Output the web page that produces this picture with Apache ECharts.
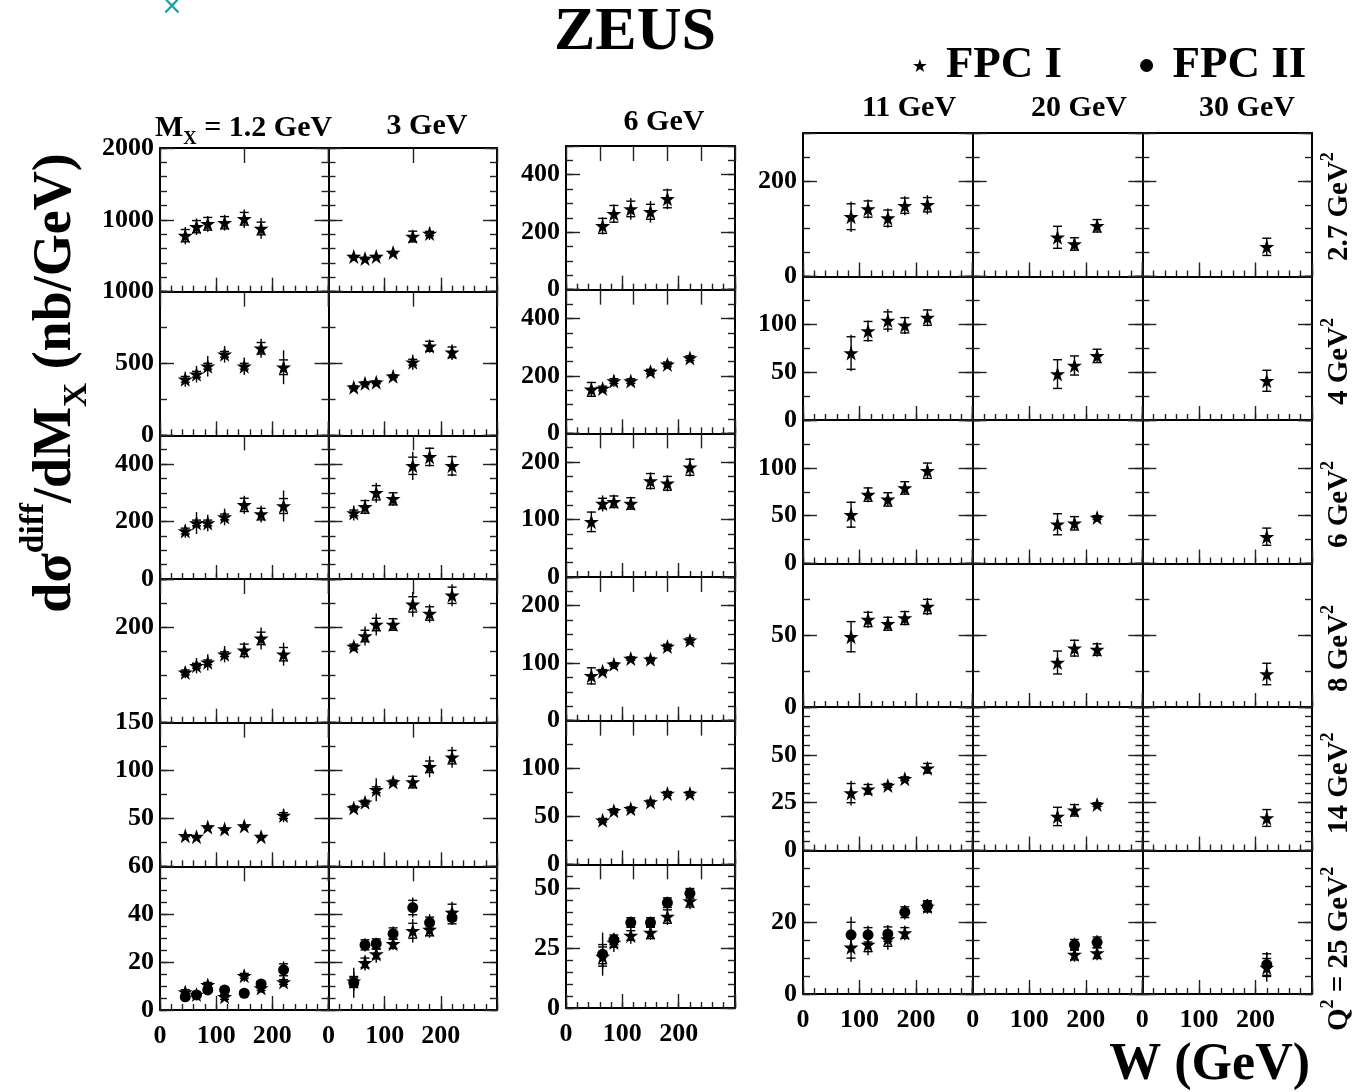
<!DOCTYPE html>
<html>
<head>
<meta charset="utf-8">
<script src="https://cdn.jsdelivr.net/npm/echarts@6/dist/echarts.min.js"></script>
<style>
  html, body { margin: 0; padding: 0; background: #fff; }
  #chart { width: 1363px; height: 1092px; }
</style>
</head>
<body>
<div id="chart"></div>
<script>
// Columns: diffractive mass M_X; rows: photon virtuality Q^2
const massLabels = ['1.2', '3', '6', '11', '20', '30'];
const q2Labels = ['2.7', '4', '6', '8', '14', '25'];
const wTickLabels = [0, 100, 200];

// Each point: [W (GeV), dσ/dM_X (nb/GeV), stat. error, total error]; one inner list per Q^2 row
const fpcI_M1p2 = [
  [[45, 780, 85, 120], [65, 905, 85, 115], [85, 945, 88, 110], [115, 960, 85, 110], [150, 1015, 88, 130], [180, 880, 88, 145]],
  [[45, 390, 20, 52], [65, 425, 20, 58], [85, 481, 20, 72], [115, 564, 20, 58], [150, 481, 20, 61], [180, 606, 40, 66], [220, 474, 51, 118]],
  [[45, 167, 10, 23], [65, 195, 10, 38], [85, 195, 10, 29], [115, 216, 10, 29], [150, 258, 23, 32], [180, 226, 20, 29], [220, 254, 26, 54]],
  [[45, 105, 5, 12], [65, 119, 5, 16], [85, 126, 5, 17], [115, 143, 5, 17], [150, 151, 13, 17], [180, 176, 13, 23], [220, 143, 14, 24]],
  [[45, 32, 1, 2], [65, 31, 1, 2], [85, 41, 1, 3], [115, 39, 1, 2], [150, 42, 1, 3], [180, 31, 1, 2], [220, 53, 3, 7]],
  [[45, 7.5, 1, 2], [65, 6.5, 1, 1.5], [85, 10.5, 1, 2], [115, 5.5, 1, 1.5], [150, 14.3, 1, 2.5], [180, 9.2, 1, 2], [220, 11.7, 1, 2]]
];
const fpcI_M3 = [
  [[45, 488, 15, 20], [65, 462, 15, 20], [85, 488, 15, 20], [115, 545, 15, 25], [150, 767, 75, 80], [180, 810, 30, 90]],
  [[45, 334, 10, 15], [65, 362, 10, 20], [85, 369, 10, 20], [115, 411, 10, 15], [150, 509, 20, 52], [180, 620, 35, 45], [220, 578, 37, 54]],
  [[45, 230, 10, 26], [65, 251, 22, 26], [85, 300, 25, 35], [115, 279, 21, 24], [150, 394, 30, 49], [180, 425, 30, 33], [220, 394, 32, 36]],
  [[45, 159, 5, 10], [65, 181, 12, 20], [85, 205, 13, 23], [115, 205, 12, 13], [150, 247, 16, 26], [180, 228, 14, 19], [220, 266, 17, 23]],
  [[45, 61, 2, 3], [65, 67, 2, 5], [85, 80, 3, 12], [115, 88, 2, 4], [150, 88, 6, 7], [180, 104, 6, 11], [220, 114, 7, 11]],
  [[45, 12, 2, 4], [65, 19.7, 2, 3.2], [85, 23.4, 2, 3.7], [115, 27.7, 2, 2.5], [150, 33.1, 3.1, 4.9], [180, 33.6, 2.6, 3.4], [220, 40.7, 3.5, 4.5]]
];
const fpcI_M6 = [
  [[65, 222, 26, 30], [85, 264, 29, 32], [115, 281, 27, 38], [150, 271, 26, 38], [180, 316, 31, 36]],
  [[45, 153, 24, 26], [65, 156, 8, 12], [85, 182, 8, 20], [115, 182, 8, 12], [150, 215, 8, 15], [180, 240, 8, 15], [220, 262, 8, 15]],
  [[45, 96, 17, 18], [65, 128, 9, 14], [85, 131, 10, 12], [115, 128, 10, 11], [150, 167, 13, 15], [180, 163, 12, 14], [220, 191, 14, 16]],
  [[45, 78, 14, 15], [65, 86, 3, 5], [85, 98, 3, 8], [115, 108, 3, 6], [150, 107, 3, 5], [180, 129, 4, 8], [220, 140, 4, 7]],
  [[65, 46, 2, 3], [85, 56, 2, 4], [115, 58, 2, 3], [150, 65, 2, 3], [180, 74, 2, 3], [220, 74, 2, 3]],
  [[65, 21.5, 4, 5], [85, 27.4, 2, 4], [115, 30.3, 2, 3.5], [150, 31.5, 2.5, 3], [180, 38.2, 2.8, 3.5], [220, 44.7, 2.5, 3.5]]
];
const fpcI_M11 = [
  [[85, 125, 27, 32], [115, 141, 17, 20], [150, 122, 17, 20], [180, 148, 16, 20], [220, 150, 15, 20]],
  [[85, 70, 17, 19], [115, 93, 10, 11], [150, 104, 9, 12], [180, 99, 8, 9], [220, 107, 8, 9]],
  [[85, 51, 13, 14], [115, 72, 7, 8], [150, 67, 7, 7], [180, 79, 6.5, 7], [220, 97, 8, 8]],
  [[85, 49, 10.5, 11], [115, 61, 5, 6], [150, 58, 4.5, 5], [180, 62, 4.5, 5], [220, 70, 5, 6]],
  [[85, 30, 5, 6.5], [115, 32, 2.5, 3], [150, 34, 1, 1.5], [180, 37.5, 1, 1.5], [220, 43, 2.5, 3]],
  [[85, 13.0, 3, 4], [115, 13.8, 2, 3], [150, 15.3, 2, 3], [180, 17, 1.5, 2], [220, 24.4, 1.5, 2]]
];
const fpcI_M20 = [
  [[150, 82, 23, 23], [180, 68, 13, 14], [220, 106, 13, 14]],
  [[150, 48, 15, 15], [180, 57, 10, 10], [220, 67, 7, 7]],
  [[150, 41, 11, 11], [180, 42, 7, 7], [220, 48, 2, 3]],
  [[150, 31, 8, 8], [180, 41, 5.5, 6], [220, 40, 4, 5]],
  [[150, 17.8, 4.8, 4.8], [180, 21, 3, 3], [220, 24, 1, 1.5]],
  [[180, 11, 1.5, 2], [220, 11.4, 1.5, 2]]
];
const fpcI_M30 = [
  [[220, 62, 18, 19]],
  [[220, 41, 11, 11]],
  [[220, 28, 9, 9]],
  [[220, 23, 7.5, 7.5]],
  [[220, 17, 4.4, 4.4]],
  [[220, 7.4, 2.5, 4]]
];

// FPC II exists only for the Q^2 = 25 GeV^2 row
const fpcII_M1p2 = [[45, 5.5, 1, 1.5], [65, 6.3, 1, 1], [85, 8.4, 1, 1.5], [115, 8.4, 1, 1.5], [150, 7.0, 1, 1], [180, 10.9, 1, 1.5], [220, 16.8, 2.5, 3.5]];
const fpcII_M3 = [[45, 11.4, 2, 6.3], [65, 27.2, 2.1, 2.8], [85, 27.7, 2, 2.5], [115, 31.9, 2.4, 3], [150, 42.8, 3, 4.2], [180, 36.5, 2.3, 3.5], [220, 38.6, 2.6, 3]];
const fpcII_M6 = [[65, 22.5, 4, 9], [85, 28.5, 2, 2.5], [115, 35.7, 2, 2.5], [150, 35.7, 2, 2.5], [180, 44, 2, 2.5], [220, 47.9, 2, 2.5]];
const fpcII_M11 = [[85, 16.5, 3.5, 5], [115, 16.5, 2, 2.5], [150, 16.7, 2, 2.5], [180, 22.8, 1.5, 2], [220, 24.5, 1.5, 2]];
const fpcII_M20 = [[180, 13.7, 1.5, 2], [220, 14.4, 1.5, 2]];
const fpcII_M30 = [[220, 8.2, 3, 3.5]];

// y-axis ranges and tick labels for each block of columns (one entry per Q^2 row)
const yMaxA = [2000, 1000, 500, 300, 150, 60];
const yMajorA = [1000, 500, 200, 200, 50, 20];
const yMinorA = [200, 250, 50, 50, 25, 5];
const yLabelsA = [[2000, 1000], [1000, 500, 0], [400, 200, 0], [200], [150, 100, 50], [60, 40, 20, 0]];

const yMaxB = [500, 500, 250, 250, 150, 60];
const yMajorB = [200, 200, 100, 100, 50, 25];
const yMinorB = [50, 50, 25, 25, 25, 5];
const yLabelsB = [[400, 200, 0], [400, 200, 0], [200, 100, 0], [200, 100, 0], [100, 50, 0], [50, 25, 0]];

const yMaxC = [300, 150, 150, 100, 75, 40];
const yMajorC = [200, 50, 50, 50, 25, 20];
const yMinorC = [50, 25, 25, 25, 5, 5];
const yLabelsC = [[200, 0], [100, 50, 0], [100, 50, 0], [50, 0], [50, 25, 0], [20, 0]];

const fpcIByCol = [fpcI_M1p2, fpcI_M3, fpcI_M6, fpcI_M11, fpcI_M20, fpcI_M30];
const fpcIIByCol = [fpcII_M1p2, fpcII_M3, fpcII_M6, fpcII_M11, fpcII_M20, fpcII_M30];

const FONT = 'Liberation Serif';
const STAR = 'path://M50,2 L61.8,36.3 L97.6,36.3 L68.6,57.6 L79.4,92 L50,70.8 L20.6,92 L31.4,57.6 L2.4,36.3 L38.2,36.3 Z';

const blocks = [
  { cols: [0, 1], left: 160, colW: 168.5, top: 148, rowH: 143.67, yMax: yMaxA, yMajor: yMajorA, yMinor: yMinorA, yLabels: yLabelsA, topTick: 150, xLabelGap: 13 },
  { cols: [2], left: 566, colW: 169, top: 146, rowH: 143.67, yMax: yMaxB, yMajor: yMajorB, yMinor: yMinorB, yLabels: yLabelsB, topTick: 60, xLabelGap: 13 },
  { cols: [3, 4, 5], left: 803, colW: 169.67, top: 133, rowH: 143.5, yMax: yMaxC, yMajor: yMajorC, yMinor: yMinorC, yLabels: yLabelsC, topTick: 0, xLabelGap: 13 }
];

const frameLine = { show: true, onZero: false, lineStyle: { color: '#000', width: 2 } };
const noLine = { show: false, onZero: false };
const tickStyle = { color: '#222', width: 1.4 };
const labelFont = { fontFamily: FONT, fontWeight: 'bold', fontSize: 26, color: '#000' };

// vertical error bar to the total error, with short crossbars at the statistical error
function renderErrorBar(params, api) {
  const w = api.value(0), v = api.value(1), s = api.value(2), t = api.value(3);
  const c = api.coord([w, v]);
  const hi = api.coord([w, v + t]), lo = api.coord([w, v - t]);
  const sh = api.coord([w, v + s]), sl = api.coord([w, v - s]);
  const hw = 4.5;
  const style = { stroke: '#000', lineWidth: 1.4 };
  return {
    type: 'group',
    children: [
      { type: 'line', shape: { x1: c[0], y1: hi[1], x2: c[0], y2: lo[1] }, style },
      { type: 'line', shape: { x1: c[0] - hw, y1: sh[1], x2: c[0] + hw, y2: sh[1] }, style },
      { type: 'line', shape: { x1: c[0] - hw, y1: sl[1], x2: c[0] + hw, y2: sl[1] }, style }
    ]
  };
}

const grid = [], xAxis = [], yAxis = [], series = [];

blocks.forEach(b => {
  b.cols.forEach((col, ci) => {
    for (let r = 0; r < 6; r++) {
      const gi = grid.length;
      grid.push({
        left: b.left + ci * b.colW, top: b.top + r * b.rowH,
        width: b.colW, height: b.rowH,
        containLabel: false, outerBoundsMode: 'none'
      });
      const isBottom = r === 5;
      const isFirst = ci === 0;
      const xBase = { type: 'value', gridIndex: gi, min: 0, max: 300, splitLine: { show: false }, axisLabel: { show: false } };
      // bottom: minor ticks + frame
      xAxis.push(Object.assign({}, xBase, {
        position: 'bottom', interval: 20, axisLine: frameLine,
        axisTick: { show: true, inside: true, length: 6, lineStyle: tickStyle }
      }));
      // bottom: major ticks + W labels
      xAxis.push(Object.assign({}, xBase, {
        position: 'bottom', interval: 100, axisLine: noLine,
        axisTick: { show: true, inside: true, length: 14, lineStyle: tickStyle },
        axisLabel: isBottom ? Object.assign({
          show: true, margin: b.xLabelGap, showMinLabel: true, showMaxLabel: true,
          formatter: v => (wTickLabels.indexOf(v) >= 0 ? String(v) : '')
        }, labelFont) : { show: false }
      }));
      // top frame
      xAxis.push(Object.assign({}, xBase, {
        position: 'top', interval: b.topTick || 300, axisLine: frameLine,
        axisTick: { show: !!b.topTick, inside: true, length: 15, lineStyle: tickStyle }
      }));

      const yBase = { type: 'value', gridIndex: gi, min: 0, max: b.yMax[r], splitLine: { show: false }, axisLabel: { show: false } };
      const labels = b.yLabels[r];
      yAxis.push(Object.assign({}, yBase, {
        position: 'left', interval: b.yMinor[r], axisLine: frameLine,
        axisTick: { show: true, inside: true, length: 7, lineStyle: tickStyle }
      }));
      yAxis.push(Object.assign({}, yBase, {
        position: 'left', interval: b.yMajor[r], axisLine: noLine,
        axisTick: { show: true, inside: true, length: 14, lineStyle: tickStyle },
        axisLabel: isFirst ? Object.assign({
          show: true, margin: 6, showMinLabel: true, showMaxLabel: true,
          formatter: v => (labels.indexOf(v) >= 0 ? String(v) : '')
        }, labelFont) : { show: false }
      }));
      yAxis.push(Object.assign({}, yBase, {
        position: 'right', interval: b.yMinor[r], axisLine: frameLine,
        axisTick: { show: true, inside: true, length: 7, lineStyle: tickStyle }
      }));
      yAxis.push(Object.assign({}, yBase, {
        position: 'right', interval: b.yMajor[r], axisLine: noLine,
        axisTick: { show: true, inside: true, length: 14, lineStyle: tickStyle }
      }));

      const xi = 3 * gi, yi = 4 * gi;
      const ptsI = fpcIByCol[col][r];
      series.push({
        type: 'custom', name: 'FPC I errors', xAxisIndex: xi, yAxisIndex: yi,
        renderItem: renderErrorBar, data: ptsI, z: 2, silent: true
      });
      series.push({
        type: 'scatter', name: 'FPC I', xAxisIndex: xi, yAxisIndex: yi,
        symbol: STAR, symbolSize: 15, itemStyle: { color: '#000', opacity: 1 },
        data: ptsI, z: 3, silent: true
      });
      if (isBottom) {
        const ptsII = fpcIIByCol[col];
        series.push({
          type: 'custom', name: 'FPC II errors', xAxisIndex: xi, yAxisIndex: yi,
          renderItem: renderErrorBar, data: ptsII, z: 2, silent: true
        });
        series.push({
          type: 'scatter', name: 'FPC II', xAxisIndex: xi, yAxisIndex: yi,
          symbol: 'circle', symbolSize: 11, itemStyle: { color: '#000', opacity: 1 },
          data: ptsII, z: 4, silent: true
        });
      }
    }
  });
});

function txt(x, y, text, size, align, extra) {
  return Object.assign({
    type: 'text', x: x, y: y,
    style: {
      text: text, fontSize: size, fontWeight: 'bold', fontFamily: FONT, fill: '#000',
      align: align, textAlign: align, verticalAlign: 'middle', textVerticalAlign: 'middle'
    }
  }, extra || {});
}

function richTxt(x, y, text, size, align, extra) {
  const el = txt(x, y, text, size, align, extra);
  el.style.rich = {
    m: { fontSize: size, fontWeight: 'bold', fontFamily: FONT, lineHeight: size * 1.4, verticalAlign: 'middle' },
    sup: { fontSize: size * 0.62, fontWeight: 'bold', fontFamily: FONT, lineHeight: size * 0.75, verticalAlign: 'top' },
    sub: { fontSize: size * 0.62, fontWeight: 'bold', fontFamily: FONT, lineHeight: size * 0.75, verticalAlign: 'bottom' }
  };
  return el;
}

const graphics = [
  txt(635, 33, 'ZEUS', 62, 'center'),
  richTxt(155, 128, '{m|M}{sub|X}{m| = 1.2 GeV}', 30, 'left'),
  txt(427, 126, massLabels[1] + ' GeV', 30, 'center'),
  txt(664, 122, massLabels[2] + ' GeV', 30, 'center'),
  txt(909, 108, massLabels[3] + ' GeV', 30, 'center'),
  txt(1079, 108, massLabels[4] + ' GeV', 30, 'center'),
  txt(1247, 108, massLabels[5] + ' GeV', 30, 'center'),
  txt(1310, 1066, 'W (GeV)', 52, 'right'),
  richTxt(56, 383, '{m|dσ}{sup|diff}{m|/dM}{sub|X}{m| (nb/GeV)}', 54, 'center', { rotation: Math.PI / 2 }),
  { type: 'text', x: 172, y: -6, style: { text: '×', fontSize: 26, fontFamily: 'DejaVu Sans', fill: '#1aa3a3', align: 'center', textAlign: 'center' } }
];

// Q^2 row labels, written upward along the right edge
const q2Starts = [261, 405, 548, 692, 834, 1031];
q2Labels.forEach((q, r) => {
  const text = (r === 5 ? '{m|Q}{sup|2}{m| = }' : '') + '{m|' + q + ' GeV}{sup|2}';
  graphics.push(richTxt(1340, q2Starts[r], text, 29, 'left', { rotation: Math.PI / 2 }));
});

const chart = echarts.init(document.getElementById('chart'), null, { renderer: 'canvas' });
chart.setOption({
  animation: false,
  backgroundColor: '#fff',
  grid: grid,
  xAxis: xAxis,
  yAxis: yAxis,
  legend: {
    data: [{ name: 'FPC I', icon: STAR }, { name: 'FPC II', icon: 'circle' }],
    left: 908, top: 38, itemWidth: 14, itemHeight: 13, itemGap: 78,
    selectedMode: false,
    itemStyle: { opacity: 1 },
    textStyle: { fontSize: 45, fontWeight: 'bold', fontFamily: FONT, color: '#000', padding: [0, 0, 0, 14] }
  },
  graphic: { elements: graphics },
  series: series
});
</script>
</body>
</html>
